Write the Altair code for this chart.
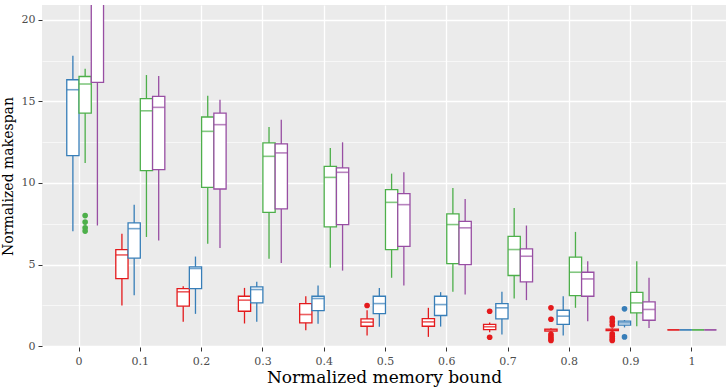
import altair as alt
import pandas as pd

categories = ["0", "0.1", "0.2", "0.3", "0.4", "0.5", "0.6", "0.7", "0.8", "0.9", "1"]
series = ["S1", "S2", "S3", "S4"]
colors = ["#E41A1C", "#377EB8", "#4DAF4A", "#984EA3"]

# five-number summaries per series (None = no box)
s1_lo = [None, 2.49, 1.49, 1.39, 0.98, 0.65, 0.57, 0.85, 0.85, 0.9, 1.0]
s1_q1 = [None, 4.14, 2.45, 2.14, 1.43, 1.22, 1.22, 1.02, 0.92, 0.95, 1.0]
s1_med = [None, 5.59, 3.33, 2.82, 1.94, 1.47, 1.49, 1.19, 1.0, 1.0, 1.0]
s1_q3 = [None, 5.92, 3.53, 3.06, 2.61, 1.67, 1.69, 1.33, 1.05, 1.05, 1.0]
s1_hi = [None, 6.88, 3.67, 3.57, 3.06, 2.2, 2.35, 1.45, 1.1, 1.1, 1.0]

s2_lo = [7.04, 3.12, 1.98, 1.49, 1.37, 1.19, 1.2, 0.72, 0.65, 1.15, 1.0]
s2_q1 = [11.67, 5.39, 3.53, 2.65, 2.18, 2.0, 1.88, 1.67, 1.33, 1.29, 1.0]
s2_med = [15.71, 7.2, 4.76, 3.47, 2.92, 2.61, 2.55, 2.35, 1.84, 1.43, 1.0]
s2_q3 = [16.32, 7.55, 4.86, 3.63, 3.06, 3.06, 3.06, 2.61, 2.2, 1.53, 1.0]
s2_hi = [17.79, 8.67, 5.49, 3.94, 3.71, 3.57, 3.31, 3.33, 3.06, 1.6, 1.0]

s3_lo = [11.22, 6.69, 6.27, 5.35, 4.8, 4.19, 3.33, 2.92, 2.35, 1.22, 1.0]
s3_q1 = [14.28, 10.75, 9.73, 8.2, 7.31, 5.92, 5.06, 4.33, 3.1, 2.04, 1.0]
s3_med = [16.06, 14.42, 13.16, 11.63, 10.34, 8.81, 7.45, 5.92, 4.53, 2.65, 1.0]
s3_q3 = [16.52, 15.16, 14.04, 12.45, 11.02, 9.59, 8.1, 6.73, 5.45, 3.3, 1.0]
s3_hi = [17.0, 16.61, 15.34, 13.43, 12.14, 10.57, 9.69, 8.47, 7.0, 5.2, 1.0]

s4_lo = [7.4, 6.47, 6.02, 5.1, 4.63, 3.71, 3.16, 2.82, 1.53, 1.12, 1.0]
s4_q1 = [16.16, 10.81, 9.63, 8.41, 7.45, 6.12, 5.0, 3.94, 3.06, 1.59, 1.0]
s4_med = [21.8, 14.63, 13.57, 11.84, 10.65, 8.67, 7.25, 5.51, 4.12, 2.25, 1.0]
s4_q3 = [23.5, 15.3, 14.28, 12.39, 10.92, 9.35, 7.65, 5.96, 4.53, 2.72, 1.0]
s4_hi = [29.0, 16.55, 15.1, 13.87, 12.49, 10.65, 9.02, 7.39, 5.2, 4.19, 1.0]

# outliers: (category, series, value)
out_cat = ["0", "0", "0", "0",
           "0.5", "0.7", "0.7",
           "0.8", "0.8", "0.8", "0.8", "0.8", "0.8",
           "0.9", "0.9", "0.9", "0.9", "0.9", "0.9", "0.9",
           "0.9", "0.9"]
out_ser = ["S3", "S3", "S3", "S3",
           "S1", "S1", "S1",
           "S1", "S1", "S1", "S1", "S1", "S1",
           "S1", "S1", "S1", "S1", "S1", "S1", "S1",
           "S2", "S2"]
out_val = [8.0, 7.6, 7.25, 7.05,
           2.49, 2.14, 0.55,
           2.35, 1.65, 0.72, 0.58, 0.45, 0.35,
           1.7, 1.5, 1.3, 0.75, 0.6, 0.45, 0.35,
           2.29, 0.57]

stats = {
    "S1": (s1_lo, s1_q1, s1_med, s1_q3, s1_hi),
    "S2": (s2_lo, s2_q1, s2_med, s2_q3, s2_hi),
    "S3": (s3_lo, s3_q1, s3_med, s3_q3, s3_hi),
    "S4": (s4_lo, s4_q1, s4_med, s4_q3, s4_hi),
}
rows = []
for s in series:
    lo, q1, med, q3, hi = stats[s]
    for i, c in enumerate(categories):
        if med[i] is None:
            continue
        rows.append({"mb": c, "alg": s, "lo": lo[i], "q1": q1[i], "med": med[i], "q3": q3[i], "hi": hi[i]})
box_df = pd.DataFrame(rows)
out_df = pd.DataFrame({"mb": out_cat, "alg": out_ser, "v": out_val})

FONT = "DejaVu Serif"

x_enc = alt.X(
    "mb:N",
    sort=categories,
    scale=alt.Scale(domain=categories, paddingInner=0, paddingOuter=0.08, align=0.65),
    axis=alt.Axis(
        title="Normalized memory bound",
        labelAngle=0,
        grid=True,
        gridColor="white",
        gridWidth=1.3,
        bandPosition=0.5,
        titleFontSize=17,
        titlePadding=3,
        labelPadding=4,
    ),
)
xo_enc = alt.XOffset("alg:N", scale=alt.Scale(domain=series, paddingInner=0, paddingOuter=0.5))
y_scale = alt.Scale(domain=[-0.05, 20.9], nice=False, zero=False)
y_axis = alt.Axis(
    title="Normalized makespan",
    values=[0, 2.5, 5, 7.5, 10, 12.5, 15, 17.5, 20],
    labelExpr="datum.value % 5 == 0 ? datum.label : ''",
    gridColor="white",
    gridWidth={"condition": {"test": "datum.value % 5 == 0", "value": 1.3}, "value": 0.6},
    tickOpacity={"condition": {"test": "datum.value % 5 == 0", "value": 1}, "value": 0},
    titleFontSize=14,
    titlePadding=6,
    labelPadding=3,
)
col_scale = alt.Scale(domain=series, range=colors)

base = alt.Chart(box_df)

whisk = base.mark_rule(strokeWidth=1.3, clip=True).encode(
    x=x_enc, xOffset=xo_enc,
    y=alt.Y("lo:Q", scale=y_scale, axis=y_axis), y2="hi:Q",
    color=alt.Color("alg:N", scale=col_scale, legend=None),
)
boxes = base.mark_bar(fill="white", strokeWidth=1.3, clip=True).encode(
    x=x_enc, xOffset=xo_enc,
    y=alt.Y("q1:Q", scale=y_scale, axis=y_axis), y2="q3:Q",
    stroke=alt.Stroke("alg:N", scale=col_scale, legend=None),
)
medians = base.mark_tick(thickness=1.6, size=12, clip=True).encode(
    x=x_enc, xOffset=xo_enc,
    y=alt.Y("med:Q", scale=y_scale, axis=y_axis),
    color=alt.Color("alg:N", scale=col_scale, legend=None),
)
outs = alt.Chart(out_df).mark_circle(size=32, opacity=1, clip=True).encode(
    x=x_enc, xOffset=xo_enc,
    y=alt.Y("v:Q", scale=y_scale, axis=y_axis),
    color=alt.Color("alg:N", scale=col_scale, legend=None),
)

chart = alt.layer(whisk, boxes, medians, outs).properties(
    width=684, height=342,
    autosize=alt.AutoSizeParams(type="none"),
    padding={"left": 42, "top": 5, "right": 0, "bottom": 43},
    background="white",
).configure_view(
    fill="#EBEBEB", stroke=None
).configure_axis(
    domain=False,
    labelFont=FONT,
    titleFont=FONT,
    labelFontSize=11,
    labelColor="#4D4D4D",
    titleColor="black",
    titleFontWeight="normal",
    tickColor="#333333",
    tickSize=4,
    tickWidth=1,
)

chart.save("out.html", embed_options={"renderer": "svg", "actions": False})
